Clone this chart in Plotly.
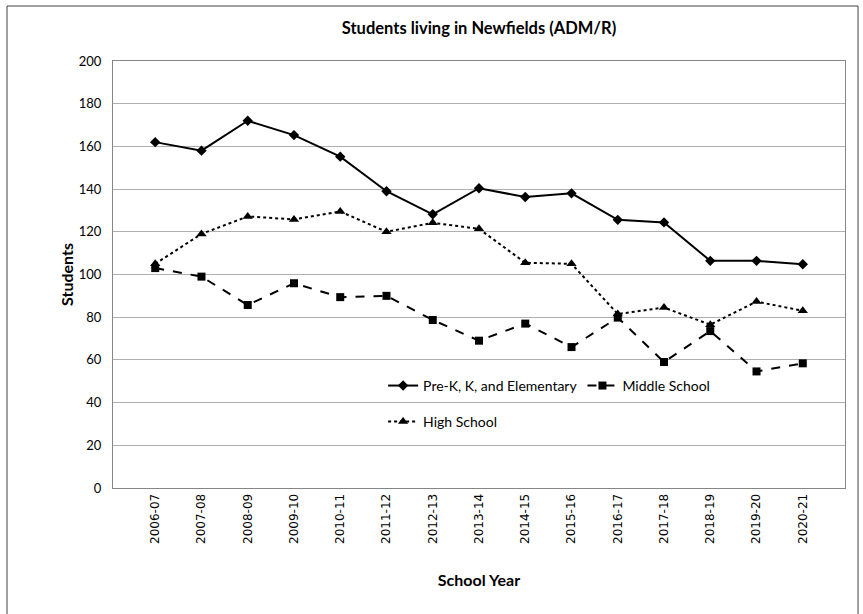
import plotly.graph_objects as go

years = ["2006-07", "2007-08", "2008-09", "2009-10", "2010-11", "2011-12", "2012-13",
         "2013-14", "2014-15", "2015-16", "2016-17", "2017-18", "2018-19", "2019-20", "2020-21"]
elementary = [162, 158, 172, 165.3, 155.2, 139, 128.2, 140.4, 136.3, 138, 125.6, 124.4, 106.4, 106.4, 104.8]
middle = [103, 99, 85.7, 95.9, 89.4, 90, 78.7, 69, 77, 66, 79.8, 59, 73.5, 54.6, 58.4]
high = [105, 119, 127.2, 125.8, 129.5, 120, 124.2, 121.4, 105.5, 105, 81.5, 84.5, 76.5, 87.3, 83]

FONT = "Lato"

fig = go.Figure()
fig.add_trace(go.Scatter(
    x=years, y=elementary, name="Pre-K, K, and Elementary", mode="lines+markers",
    line=dict(color="black", width=2), marker=dict(symbol="diamond", size=8, color="black"),
    legend="legend",
))
fig.add_trace(go.Scatter(
    x=years, y=middle, name="Middle School", mode="lines+markers",
    line=dict(color="black", width=2, dash="dash"), marker=dict(symbol="square", size=8, color="black"),
    legend="legend",
))
fig.add_trace(go.Scatter(
    x=years, y=high, name="High School", mode="lines+markers",
    line=dict(color="black", width=2, dash="dot"), marker=dict(symbol="triangle-up", size=9, color="black"),
    legend="legend2",
))

legend_style = dict(
    orientation="h", xref="paper", yref="paper", xanchor="left", yanchor="middle",
    bgcolor="rgba(0,0,0,0)", font=dict(family=FONT, size=14, color="black"),
    itemwidth=30, tracegroupgap=0,
)

fig.update_layout(
    width=863, height=614,
    margin=dict(l=113, r=18, t=61, b=126),
    paper_bgcolor="white", plot_bgcolor="white",
    font=dict(family=FONT, size=13, color="black"),
    title=dict(text="<b>Students living in Newfields (ADM/R)</b>", x=0.5, xref="paper",
               y=1 - 28 / 614, yanchor="middle", font=dict(family=FONT, size=16.5, color="black")),
    legend=dict(x=0.369, y=0.239, **legend_style),
    legend2=dict(x=0.369, y=0.155, **legend_style),
    shapes=[dict(type="rect", xref="paper", yref="paper", x0=-0.1448, x1=1.0178, y0=-0.32, y1=1.1288,
                 line=dict(color="#404040", width=1), layer="below")],
)
fig.update_xaxes(
    type="category", tickangle=-90, tickfont=dict(family="DejaVu Sans", size=12),
    showline=True, linecolor="#868686", linewidth=1, mirror=True, showgrid=False,
    ticks="", title=dict(text="<b>School Year</b>", font=dict(family=FONT, size=16), standoff=31),
)
fig.update_yaxes(
    range=[0, 200], dtick=20, tickfont=dict(family=FONT, size=13), ticklabelstandoff=8,
    showline=True, linecolor="#868686", linewidth=1, mirror=True,
    showgrid=True, gridcolor="#b0b0b0", gridwidth=1, zeroline=False, ticks="",
    title=dict(text="<b>Students</b>", font=dict(family=FONT, size=16), standoff=1),
)

fig.write_html(
    "out.html",
    config={"displayModeBar": False},
    post_script="document.body.style.margin='0';document.body.style.overflow='hidden';",
)
